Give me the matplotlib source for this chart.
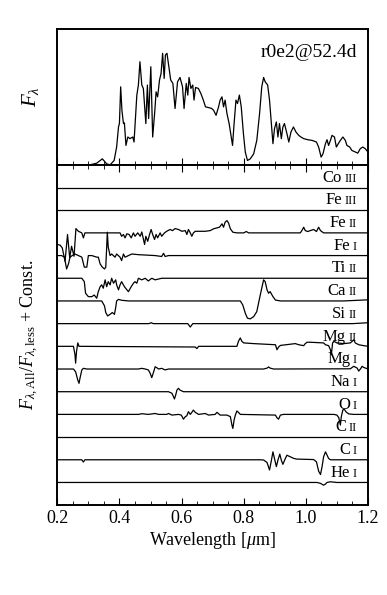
import matplotlib
matplotlib.use('Agg')
import matplotlib.pyplot as plt
import numpy as np
from matplotlib.offsetbox import TextArea, HPacker, AnnotationBbox
from matplotlib.ticker import MultipleLocator

plt.rcParams['font.family'] = ['Liberation Serif', 'DejaVu Serif']
plt.rcParams['mathtext.fontset'] = 'custom'
plt.rcParams['mathtext.rm'] = 'Liberation Serif'
plt.rcParams['mathtext.it'] = 'Liberation Serif:italic'

# top panel: total spectrum (wavelength in micron, flux arbitrary)
wl_tot = [0.200, 0.305, 0.327, 0.345, 0.359, 0.370, 0.383, 0.391, 0.397, 0.400, 0.404, 0.408,
          0.413, 0.416, 0.421, 0.427, 0.434, 0.443, 0.447, 0.456, 0.461, 0.466, 0.472, 0.477,
          0.485, 0.490, 0.494, 0.501, 0.507, 0.514, 0.518, 0.523, 0.529, 0.534, 0.539, 0.544,
          0.548, 0.553, 0.559, 0.565, 0.572, 0.579, 0.587, 0.595, 0.603, 0.608, 0.615, 0.620,
          0.624, 0.630, 0.636, 0.640, 0.645, 0.654, 0.662, 0.670, 0.677, 0.687, 0.697, 0.703,
          0.711, 0.719, 0.724, 0.730, 0.735, 0.740, 0.746, 0.753, 0.764, 0.769, 0.775, 0.780,
          0.786, 0.792, 0.799, 0.805, 0.812, 0.821, 0.832, 0.842, 0.851, 0.858, 0.864, 0.869,
          0.877, 0.883, 0.889, 0.894, 0.899, 0.905, 0.910, 0.915, 0.921, 0.926, 0.931, 0.939,
          0.945, 0.952, 0.960, 0.968, 0.977, 0.984, 0.993, 1.006, 1.020, 1.034, 1.041, 1.049,
          1.055, 1.063, 1.068, 1.073, 1.079, 1.084, 1.092, 1.098, 1.103, 1.111, 1.119, 1.127,
          1.132, 1.141, 1.148, 1.159, 1.167, 1.175, 1.183, 1.191, 1.200]
flux_tot = [0.0, 0.0, 0.012, 0.044, 0.007, 0.0, 0.032, 0.131, 0.279, 0.304, 0.575, 0.402,
            0.304, 0.309, 0.143, 0.205, 0.193, 0.205, 0.168, 0.514, 0.588, 0.760, 0.588, 0.563,
            0.304, 0.588, 0.341, 0.723, 0.205, 0.402, 0.538, 0.501, 0.625, 0.674, 0.822, 0.637,
            0.810, 0.822, 0.723, 0.625, 0.600, 0.415, 0.612, 0.644, 0.575, 0.415, 0.600, 0.514,
            0.644, 0.563, 0.588, 0.477, 0.570, 0.563, 0.526, 0.477, 0.427, 0.422, 0.415, 0.402,
            0.365, 0.427, 0.477, 0.501, 0.427, 0.477, 0.378, 0.304, 0.143, 0.304, 0.477, 0.452,
            0.514, 0.427, 0.230, 0.094, 0.032, 0.044, 0.081, 0.180, 0.378, 0.575, 0.644, 0.612,
            0.588, 0.477, 0.304, 0.156, 0.267, 0.316, 0.205, 0.304, 0.193, 0.279, 0.304, 0.230,
            0.168, 0.242, 0.279, 0.242, 0.217, 0.205, 0.193, 0.185, 0.180, 0.168, 0.131, 0.057,
            0.081, 0.156, 0.185, 0.143, 0.180, 0.217, 0.205, 0.131, 0.151, 0.180, 0.205, 0.180,
            0.143, 0.131, 0.106, 0.094, 0.086, 0.119, 0.131, 0.119, 0.094]

# bottom panel: ratio minus one for each species, listed top to bottom
species = [('Co', 'III'), ('Fe', 'III'), ('Fe', 'II'), ('Fe', 'I'), ('Ti', 'II'), ('Ca', 'II'),
           ('Si', 'II'), ('Mg', 'II'), ('Mg', 'I'), ('Na', 'I'), ('O', 'I'), ('C', 'II'),
           ('C', 'I'), ('He', 'I')]

wl_co3 = [0.2, 1.2]
dv_co3 = [0.0, 0.0]
wl_fe3 = [0.2, 1.2]
dv_fe3 = [0.0, 0.0]
wl_fe2 = [0.200, 0.209, 0.216, 0.225, 0.233, 0.240, 0.246, 0.254, 0.260, 0.268, 0.279, 0.284,
          0.289, 0.402, 0.407, 0.413, 0.418, 0.424, 0.431, 0.438, 0.445, 0.450, 0.459, 0.467,
          0.472, 0.481, 0.485, 0.491, 0.497, 0.502, 0.507, 0.513, 0.518, 0.523, 0.531, 0.536,
          0.545, 0.552, 0.563, 0.571, 0.579, 0.590, 0.601, 0.612, 0.617, 0.622, 0.628, 0.633,
          0.638, 0.644, 0.676, 0.692, 0.703, 0.722, 0.730, 0.735, 0.740, 0.746, 0.751, 0.757,
          0.765, 0.778, 0.800, 0.808, 0.816, 0.982, 0.987, 0.993, 0.998, 1.006, 1.014, 1.025,
          1.034, 1.041, 1.047, 1.057, 1.200]
dv_fe2 = [-0.51, -0.54, -0.66, -1.25, -0.07, -1.10, -0.59, -1.03, 0.19, 0.07, 0.0, -0.22,
          0.0, 0.0, -0.15, -0.07, -0.22, -0.04, -0.07, -0.22, 0.0, -0.15, 0.0, -0.15,
          0.04, -0.51, -0.15, -0.37, -0.07, 0.15, -0.07, -0.29, -0.07, -0.22, 0.0, -0.15,
          0.0, 0.07, 0.15, 0.10, 0.19, 0.15, 0.07, 0.10, -0.07, 0.15, 0.0, -0.15,
          0.0, 0.07, 0.07, 0.10, 0.18, 0.25, 0.40, 0.25, 0.47, 0.54, 0.44, 0.18,
          0.03, 0.0, 0.0, 0.06, 0.0, 0.0, 0.10, 0.25, 0.10, 0.06, 0.10, 0.15,
          0.06, 0.25, 0.10, 0.0, 0.0]
wl_fe1 = [0.200, 0.214, 0.223, 0.230, 0.236, 0.241, 0.248, 0.257, 0.268, 0.279, 0.287, 0.295,
          0.300, 0.311, 0.327, 0.332, 0.338, 0.345, 0.352, 0.356, 0.359, 0.361, 0.364, 0.370,
          0.375, 0.386, 0.391, 0.402, 0.407, 0.413, 0.418, 0.429, 0.440, 0.461, 0.515, 0.536,
          0.542, 0.547, 0.558, 1.200]
dv_fe1 = [0.0, 0.0, -0.07, -0.59, -0.37, -0.07, 0.0, 0.07, 0.0, -0.07, -0.51, -0.51,
          0.0, 0.0, -0.07, -0.07, -0.37, -0.51, -0.59, -0.51, 0.37, 1.03, 0.37, 0.0,
          0.07, -0.07, 0.07, -0.07, -0.22, 0.07, -0.07, 0.0, 0.07, 0.04, 0.0, -0.04,
          0.10, -0.04, 0.0, 0.0]
wl_ti2 = [0.200, 0.279, 0.287, 0.291, 0.300, 0.311, 0.319, 0.327, 0.332, 0.338, 0.343, 0.348,
          0.354, 0.359, 0.364, 0.370, 0.375, 0.381, 0.388, 0.391, 0.397, 0.402, 0.407, 0.416,
          0.424, 0.429, 0.438, 0.445, 0.450, 0.456, 0.461, 0.472, 0.483, 0.493, 0.504, 0.515,
          0.536, 1.200]
dv_ti2 = [0.0, 0.0, -0.15, -0.66, -0.81, -0.81, -0.74, -0.88, -0.59, -0.37, -0.29, -0.44,
          -0.07, -0.37, -0.15, -0.29, 0.0, -0.22, -0.07, -0.29, -0.51, -0.29, -0.15, -0.37,
          -0.51, -0.59, -0.37, -0.22, -0.15, -0.22, 0.0, -0.07, 0.0, -0.12, 0.0, -0.07,
          0.0, 0.0]
wl_ca2 = [0.200, 0.343, 0.352, 0.356, 0.362, 0.370, 0.377, 0.384, 0.388, 0.391, 0.397, 0.407,
          0.429, 0.789, 0.797, 0.805, 0.812, 0.821, 0.832, 0.842, 0.851, 0.859, 0.864, 0.869,
          0.875, 0.880, 0.885, 0.894, 0.902, 0.918, 1.122, 1.200]
dv_ca2 = [0.0, 0.0, -0.22, -0.51, -0.66, -0.59, -0.51, -0.59, -0.29, 0.0, 0.07, 0.03,
          0.0, 0.0, -0.18, -0.54, -0.76, -0.79, -0.69, -0.47, 0.12, 0.63, 0.93, 0.85,
          0.49, 0.34, 0.41, 0.19, 0.04, 0.0, 0.0, 0.05]
wl_si2 = [0.200, 0.495, 0.502, 0.509, 0.620, 0.628, 0.636, 1.150, 1.200]
dv_si2 = [0.0, 0.0, 0.04, 0.0, 0.0, -0.15, 0.0, 0.0, 0.04]
wl_mg2 = [0.200, 0.252, 0.257, 0.259, 0.262, 0.266, 0.270, 0.644, 0.649, 0.655, 0.778, 0.783,
          0.789, 0.794, 0.800, 0.832, 0.902, 0.907, 0.912, 0.918, 0.966, 0.977, 0.993, 0.998,
          1.004, 1.014, 1.057, 1.063, 1.073, 1.079, 1.082, 1.086, 1.090, 1.100, 1.122, 1.143,
          1.149, 1.154, 1.159, 1.170, 1.186, 1.200]
dv_mg2 = [0.0, 0.0, -0.37, -0.74, -0.22, 0.15, 0.0, -0.03, -0.10, 0.0, 0.0, 0.22,
          0.37, 0.22, 0.15, 0.12, 0.07, -0.15, -0.03, 0.04, 0.12, 0.07, 0.03, 0.12,
          0.18, 0.18, 0.15, 0.07, 0.03, -0.15, -0.37, 0.15, 0.22, 0.15, 0.12, 0.15,
          0.22, 0.29, 0.15, 0.07, 0.03, 0.0]
wl_mg1 = [0.200, 0.252, 0.259, 0.266, 0.270, 0.273, 0.279, 0.284, 0.295, 0.461, 0.472, 0.483,
          0.493, 0.499, 0.504, 0.507, 0.512, 0.515, 0.520, 0.526, 0.536, 0.547, 0.558, 0.864,
          0.875, 0.880, 0.885, 0.896, 1.143, 1.154, 1.165, 1.170, 1.176, 1.181, 1.186, 1.200]
dv_mg1 = [0.0, 0.0, -0.12, -0.49, -0.63, -0.41, -0.04, 0.03, 0.0, 0.0, 0.03, 0.0,
          -0.04, -0.19, -0.38, -0.26, -0.04, 0.10, 0.06, 0.0, 0.03, -0.04, 0.0, 0.0,
          0.04, 0.09, 0.04, 0.0, 0.01, 0.12, 0.04, -0.09, 0.01, 0.12, 0.07, 0.0]
wl_na1 = [0.200, 0.558, 0.569, 0.574, 0.577, 0.581, 0.585, 0.590, 0.595, 0.606, 1.200]
dv_na1 = [0.0, 0.0, -0.07, -0.22, -0.32, -0.15, 0.07, 0.15, 0.07, 0.0, 0.0]
wl_o1 = [0.200, 0.461, 0.472, 0.493, 0.515, 0.526, 0.552, 0.558, 0.569, 0.590, 0.599, 0.606,
         0.612, 0.617, 0.622, 0.628, 0.633, 0.638, 0.644, 0.655, 0.676, 0.687, 0.708, 0.714,
         0.724, 0.746, 0.757, 0.762, 0.765, 0.769, 0.773, 0.778, 0.783, 0.789, 0.902, 0.907,
         0.912, 0.918, 0.928, 1.090, 1.100, 1.106, 1.111, 1.114, 1.119, 1.124, 1.130, 1.138,
         1.154, 1.200]
dv_o1 = [0.0, 0.0, 0.03, 0.0, 0.04, 0.0, 0.0, 0.04, -0.03, 0.0, -0.03, -0.21,
         -0.10, -0.06, 0.12, 0.0, 0.09, 0.19, 0.09, 0.0, 0.04, -0.03, 0.0, 0.09,
         -0.03, -0.03, -0.10, -0.47, -0.62, -0.25, -0.03, 0.15, 0.09, 0.0, -0.03, -0.15,
         -0.21, -0.03, 0.0, 0.0, -0.03, -0.15, -0.47, -0.10, 0.20, 0.22, 0.10, 0.02,
         0.0, 0.0]
wl_c2 = [0.2, 1.2]
dv_c2 = [0.0, 0.0]
wl_c1 = [0.200, 0.279, 0.284, 0.289, 0.853, 0.864, 0.875, 0.883, 0.888, 0.894, 0.899, 0.905,
         0.910, 0.916, 0.921, 0.926, 0.934, 0.939, 0.950, 0.961, 0.971, 1.025, 1.034, 1.041,
         1.047, 1.052, 1.057, 1.063, 1.068, 1.073, 1.079, 1.200]
dv_c1 = [0.0, 0.0, -0.10, 0.0, 0.0, -0.01, -0.12, -0.45, -0.10, 0.35, 0.05, -0.30,
         -0.02, 0.25, -0.02, -0.20, 0.06, 0.20, 0.13, 0.06, 0.03, 0.01, -0.09, -0.50,
         -0.65, -0.31, 0.13, 0.35, 0.21, 0.06, 0.0, 0.0]
wl_he1 = [0.200, 1.036, 1.047, 1.057, 1.063, 1.068, 1.079, 1.100, 1.200]
dv_he1 = [0.0, 0.0, -0.04, -0.12, -0.07, 0.0, 0.03, 0.0, 0.0]

ratio_wl = [wl_co3, wl_fe3, wl_fe2, wl_fe1, wl_ti2, wl_ca2, wl_si2, wl_mg2, wl_mg1,
            wl_na1, wl_o1, wl_c2, wl_c1, wl_he1]
ratio_dv = [dv_co3, dv_fe3, dv_fe2, dv_fe1, dv_ti2, dv_ca2, dv_si2, dv_mg2, dv_mg1,
            dv_na1, dv_o1, dv_c2, dv_c1, dv_he1]

fig = plt.figure(figsize=(3.87, 5.95), dpi=100)
ax1 = fig.add_axes([0.148, 0.723, 0.803, 0.228])
ax2 = fig.add_axes([0.148, 0.151, 0.803, 0.572], sharex=ax1)

ax1.plot(wl_tot, flux_tot, color='k', lw=0.9)
ax1.set_ylim(0, 1)
ax1.set_yticks([])
ax1.set_ylabel(r'$F_\lambda$', fontsize=15, labelpad=12)
ax1.text(0.965, 0.83, 'r0e2@52.4d', transform=ax1.transAxes, ha='right', va='center', fontsize=14)
ax1.tick_params(axis='x', which='both', direction='in', labelbottom=False)

for i, (w, d) in enumerate(zip(ratio_wl, ratio_dv)):
    base = -(i + 1)
    ax2.plot(w, np.array(d) + base, color='k', lw=0.9)
    el, ion = species[i]
    box = HPacker(children=[TextArea(el, textprops=dict(fontsize=12)),
                            TextArea(ion, textprops=dict(fontsize=9)),],
                  align='baseline', pad=0, sep=2)
    ab = AnnotationBbox(box, (1.165, base + 0.08), xycoords='data', box_alignment=(1, 0),
                        frameon=False, pad=0)
    ax2.add_artist(ab)

ax2.set_ylim(-15, 0)
ax2.set_yticks([])
ax2.set_xlim(0.2, 1.2)
ax2.xaxis.set_major_locator(MultipleLocator(0.2))
ax2.xaxis.set_minor_locator(MultipleLocator(0.05))
ax2.set_xticks([0.2, 0.4, 0.6, 0.8, 1.0, 1.2])
ax2.set_xticklabels(['0.2', '0.4', '0.6', '0.8', '1.0', '1.2'])
ax2.tick_params(axis='x', which='both', direction='in', top=True, labelsize=13)
ax2.tick_params(axis='x', which='major', length=5)
ax2.tick_params(axis='x', which='minor', length=3)
ax1.tick_params(axis='x', which='major', length=5)
ax1.tick_params(axis='x', which='minor', length=3)
ax2.set_xlabel(r'Wavelength [$\mu$m]', fontsize=13, labelpad=2)
ax2.set_ylabel(r'$F_{\lambda,\mathrm{All}}/F_{\lambda,\mathrm{less}}$ + Const.', fontsize=13, labelpad=12)

for ax in (ax1, ax2):
    for s in ax.spines.values():
        s.set_linewidth(1.4)

fig.savefig('out.png', dpi=100)
